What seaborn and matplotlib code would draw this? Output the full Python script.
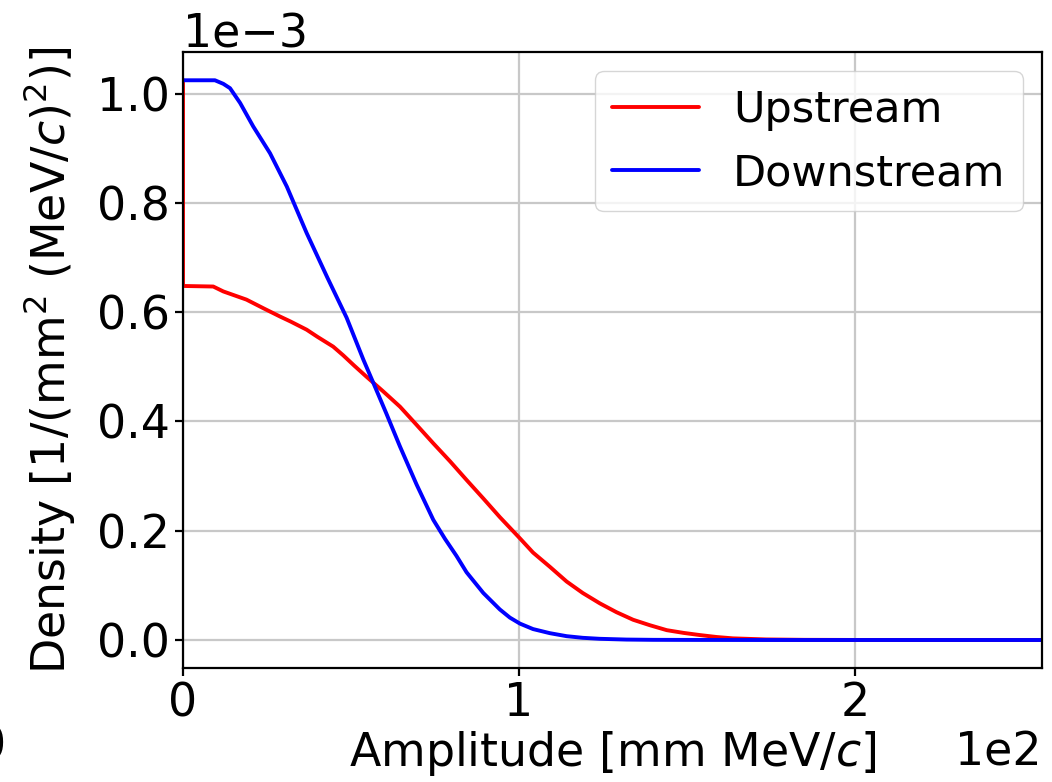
import matplotlib
matplotlib.use("Agg")
import matplotlib.pyplot as plt
import seaborn as sns
import numpy as np
import pandas as pd

# Amplitude [mm MeV/c]
up_x = [0, 0, 9, 12, 18.9, 24, 28.9, 32, 36.8, 40, 44.7, 47.7, 51, 54.6, 59.6, 64.6,
        69.5, 74.5, 79.5, 84.4, 89.4, 94.3, 100.3, 104.2, 109.2, 114.2, 119, 124.1, 129,
        134, 139, 144, 149, 153.9, 158.8, 163.7, 173.6, 185, 200, 220, 255.7]
# Density [1/(mm^2 (MeV/c)^2)]
up_y = [1.025e-3, 0.648e-3, 0.647e-3, 0.638e-3, 0.623e-3, 0.607e-3, 0.592e-3, 0.583e-3,
        0.568e-3, 0.555e-3, 0.537e-3, 0.521e-3, 0.502e-3, 0.482e-3, 0.455e-3, 0.427e-3,
        0.394e-3, 0.360e-3, 0.327e-3, 0.293e-3, 0.259e-3, 0.225e-3, 0.186e-3, 0.160e-3,
        0.134e-3, 0.107e-3, 0.086e-3, 0.067e-3, 0.051e-3, 0.037e-3, 0.027e-3, 0.018e-3,
        0.013e-3, 0.009e-3, 0.0055e-3, 0.003e-3, 0.001e-3, 0.0003e-3, 0.0001e-3, 0.0, 0.0]

down_x = [0, 9.5, 12, 14, 17, 20.9, 25.9, 30.9, 36.8, 43, 48.7, 53.7, 56.7, 60.5, 64.6,
          69.5, 74.5, 78, 81.4, 84.4, 89.4, 94.3, 97.3, 100.3, 104.2, 109.2, 114.2, 119,
          124, 132, 140, 155, 170, 255.7]
down_y = [1.0245e-3, 1.0245e-3, 1.018e-3, 1.010e-3, 0.983e-3, 0.940e-3, 0.891e-3, 0.830e-3,
          0.745e-3, 0.663e-3, 0.590e-3, 0.513e-3, 0.470e-3, 0.415e-3, 0.354e-3, 0.285e-3,
          0.220e-3, 0.185e-3, 0.154e-3, 0.124e-3, 0.086e-3, 0.056e-3, 0.041e-3, 0.030e-3,
          0.020e-3, 0.0125e-3, 0.007e-3, 0.004e-3, 0.0022e-3, 0.0008e-3, 0.0003e-3,
          0.0001e-3, 0.0, 0.0]

series = ["Upstream", "Downstream"]
colors = {"Upstream": "red", "Downstream": "blue"}

df = pd.concat([
    pd.DataFrame({"x": up_x, "y": up_y, "sample": "Upstream"}),
    pd.DataFrame({"x": down_x, "y": down_y, "sample": "Downstream"}),
], ignore_index=True)

sns.set_theme(style="ticks")
plt.rcParams["font.family"] = ["DejaVu Sans"]
plt.rcParams["mathtext.fontset"] = "dejavusans"
plt.rcParams["text.color"] = "black"

fs = 33
fig = plt.figure(figsize=(10.52, 7.82), dpi=100)
ax = fig.add_axes([183/1052, 1-668/782, (1042-183)/1052, (668-52)/782])

sns.lineplot(data=df, x="x", y="y", hue="sample", hue_order=series, palette=colors,
             estimator=None, sort=False, units="sample", linewidth=2.8, ax=ax)

ax.margins(x=0)
ax.set_xlim(0, max(up_x))
ax.grid(True, color="#c8c8c8", linewidth=1.6)
ax.set_axisbelow(True)
for s in ax.spines.values():
    s.set_color("black")
    s.set_linewidth(1.6)
ax.tick_params(axis="both", labelsize=fs, length=6, width=1.6, color="black", labelcolor="black")
ax.ticklabel_format(axis="both", style="sci", scilimits=(0, 0))
ax.xaxis.get_offset_text().set_fontsize(fs)
ax.yaxis.get_offset_text().set_fontsize(fs)
ax.xaxis.get_offset_text().set_color("black")
ax.yaxis.get_offset_text().set_color("black")
ax.set_xticks([0, 100, 200])

ax.set_xlabel("Amplitude [mm MeV/$c$]", fontsize=fs, color="black", labelpad=2)
ax.set_ylabel("Density [1/(mm$^2$ (MeV/$c$)$^2$)]", fontsize=fs, color="black", labelpad=14)

leg = ax.legend(loc="upper right", fontsize=31, frameon=True, framealpha=0.8,
                borderaxespad=0.45)
leg.get_frame().set_edgecolor("#cccccc")
for t in leg.get_texts():
    t.set_color("black")
for l in leg.get_lines():
    l.set_linewidth(2.8)

fig.text(-8/1052, 1-747/782, "0", fontsize=fs, ha="center", va="center", color="black")

fig.savefig("out.png", dpi=100)
